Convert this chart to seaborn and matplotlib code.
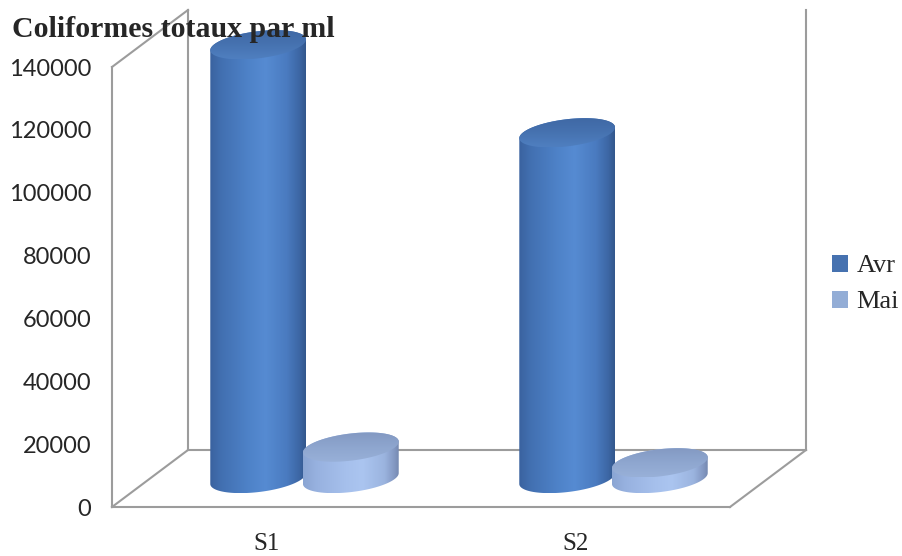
import numpy as np
import pandas as pd
import matplotlib
matplotlib.use("Agg")
import matplotlib.pyplot as plt
import seaborn as sns
from matplotlib.patches import PathPatch, Patch
from matplotlib.path import Path
from matplotlib.colors import LinearSegmentedColormap

# ---- data -------------------------------------------------------------
sites = ["S1", "S2"]
months = ["Avr", "Mai"]
avr_values = [138000, 110000]
mai_values = [10000, 5000]
y_ticks = [0, 20000, 40000, 60000, 80000, 100000, 120000, 140000]
title = "Coliformes totaux par ml"

df = pd.DataFrame({
    "site": sites * 2,
    "mois": [months[0]] * len(sites) + [months[1]] * len(sites),
    "valeur": avr_values + mai_values,
})

# ---- geometry of the pseudo-3D box (pixels) ---------------------------
W, H = 902, 556
FRONT_LEFT, FRONT_RIGHT = 112, 730
FRONT_BOTTOM = 507
PLOT_H = 440
DEPTH_X, DEPTH_Y = 76, 57
YMAX = y_ticks[-1]
CAP_HALF_PX = 13.5          # half height of the elliptical caps
CAP_TILT = np.deg2rad(7)    # perspective tilt of the caps

sns.set_theme(style="white")
plt.rcParams["font.family"] = ["DejaVu Sans"]

fig = plt.figure(figsize=(W / 100, H / 100), dpi=100)
fig.patch.set_facecolor("white")


def axes_rect(left, bottom, width, height):
    return [left / W, 1 - bottom / H, width / W, height / H]


# frame (walls and floor)
frame = fig.add_axes([0, 0, 1, 1], zorder=0)
frame.set_xlim(0, W)
frame.set_ylim(H, 0)
frame.axis("off")
fl, fr, fb = FRONT_LEFT, FRONT_RIGHT, FRONT_BOTTOM
ft = fb - PLOT_H
bl, br, bb, bt = fl + DEPTH_X, fr + DEPTH_X, fb - DEPTH_Y, ft - DEPTH_Y
edge = dict(color="#9c9c9c", lw=1.5, solid_capstyle="projecting")
segments = [
    ((fl, ft), (bl, bt)), ((fl, ft), (fl, fb)), ((fl, fb), (bl, bb)),
    ((bl, bt), (bl, bb)), ((br, bt), (br, bb)), ((bl, bb), (br, bb)),
    ((fl, fb), (fr, fb)), ((fr, fb), (br, bb)),
]
for (x0, y0), (x1, y1) in segments:
    frame.plot([x0, x1], [y0, y1], **edge)

# front plane: value axis and category labels
front = fig.add_axes(axes_rect(fl, fb, fr - fl, PLOT_H), zorder=1)
front.patch.set_alpha(0)
front.set_xlim(-0.5, len(sites) - 0.5)
front.set_ylim(0, YMAX)
front.set_yticks(y_ticks)
front.set_yticklabels([str(v) for v in y_ticks], fontfamily="Lato", fontsize=17)
front.set_xticks(range(len(sites)))
front.set_xticklabels(sites, fontfamily="Liberation Serif", fontsize=18)
front.tick_params(axis="y", length=0, pad=15)
front.tick_params(axis="x", length=0, pad=19)
for s in front.spines.values():
    s.set_visible(False)

# mid-depth plane where the cylinders stand
bars = fig.add_axes(axes_rect(fl + DEPTH_X / 2, fb - DEPTH_Y / 2, fr - fl, PLOT_H), zorder=2)
bars.patch.set_alpha(0)

palette = {"Avr": "#4672b0", "Mai": "#93add6"}
sns.barplot(data=df, x="site", y="valeur", hue="mois", hue_order=months,
            order=sites, palette=palette, width=0.6, saturation=1,
            legend=False, ax=bars)

body_cmaps = {
    "Avr": LinearSegmentedColormap.from_list("avr", [
        (0.0, "#3a629f"), (0.12, "#4270b1"), (0.4, "#4e82c8"),
        (0.58, "#568bd2"), (0.8, "#4a7bc0"), (0.93, "#3d67a5"), (1.0, "#33578c")]),
    "Mai": LinearSegmentedColormap.from_list("mai", [
        (0.0, "#8aa5d3"), (0.15, "#98b2e0"), (0.45, "#a6c0ec"),
        (0.62, "#abc5f0"), (0.85, "#9bb4df"), (0.95, "#8499c3"), (1.0, "#7589b1")]),
}
top_cmaps = {
    "Avr": LinearSegmentedColormap.from_list("avr_top", ["#4f7fc0", "#4672b0", "#3f68a4"]),
    "Mai": LinearSegmentedColormap.from_list("mai_top", ["#98b0d8", "#8ea6cf", "#8399c2"]),
}

n_cat = len(sites)
x_per_px = n_cat / (fr - fl)     # data units per pixel, horizontally
y_per_px = YMAX / PLOT_H         # data units per pixel, vertically
gradient = np.linspace(0, 1, 256)[None, :]
vgrad = np.linspace(0, 1, 64)[:, None] * np.ones((1, 8))


def ellipse_pts(cx, cy, a_px, t):
    """Points of a tilted ellipse (pixel radii a_px, CAP_HALF_PX) in data units."""
    b_px = CAP_HALF_PX
    ex = a_px * np.cos(t) * np.cos(CAP_TILT) - b_px * np.sin(t) * np.sin(CAP_TILT)
    ey = a_px * np.cos(t) * np.sin(CAP_TILT) + b_px * np.sin(t) * np.cos(CAP_TILT)
    return np.column_stack([cx + ex * x_per_px, cy + ey * y_per_px])


rects = [p for p in bars.patches if p.get_height() > 0]
for i, rect in enumerate(rects):
    month = months[i // n_cat]
    x0, w, h = rect.get_x(), rect.get_width(), rect.get_height()
    rect.set_visible(False)
    cx = x0 + w / 2
    a_px = w * 1.04 / x_per_px / 2
    z = 3 + i
    # parameter of the rightmost point of the tilted ellipse
    t0 = np.arctan(-(CAP_HALF_PX / a_px) * np.tan(CAP_TILT))
    lower = ellipse_pts(cx, 0, a_px, np.linspace(t0 + np.pi, t0 + 2 * np.pi, 90))
    upper = ellipse_pts(cx, h, a_px, np.linspace(t0, t0 + np.pi, 90))
    outline = np.vstack([lower, upper])
    clip = PathPatch(Path(outline, closed=True), transform=bars.transData,
                     facecolor="none", edgecolor="none")
    bars.add_patch(clip)
    xmin, xmax = outline[:, 0].min(), outline[:, 0].max()
    im = bars.imshow(gradient, extent=[xmin, xmax, outline[:, 1].min(), outline[:, 1].max()],
                     aspect="auto", cmap=body_cmaps[month], zorder=z,
                     interpolation="bilinear")
    im.set_clip_path(clip)
    im.set_clip_box(fig.bbox)
    # top cap, shaded from front (lower) to back (upper)
    cap_pts = ellipse_pts(cx, h, a_px, np.linspace(0, 2 * np.pi, 180))
    cap = PathPatch(Path(cap_pts, closed=True), transform=bars.transData,
                    facecolor="none", edgecolor="none")
    bars.add_patch(cap)
    im_top = bars.imshow(vgrad, extent=[cap_pts[:, 0].min(), cap_pts[:, 0].max(),
                                        cap_pts[:, 1].min(), cap_pts[:, 1].max()],
                         origin="lower", aspect="auto", cmap=top_cmaps[month],
                         zorder=z + 0.5, interpolation="bilinear")
    im_top.set_clip_path(cap)
    im_top.set_clip_box(fig.bbox)

bars.set_xlim(-0.5, n_cat - 0.5)
bars.set_ylim(0, YMAX)
bars.axis("off")

# legend
handles = [Patch(facecolor=palette[m], edgecolor="none", label=m) for m in months]
fig.legend(handles=handles, loc="center left",
           bbox_to_anchor=(832 / W, 1 - 284 / H), frameon=False,
           prop={"family": "Liberation Serif", "size": 19},
           handlelength=0.62, handleheight=0.62, handletextpad=0.3,
           labelspacing=0.5, borderpad=0, borderaxespad=0)

fig.text(12 / W, 1 - 37 / H, title, fontfamily="Liberation Serif",
         fontweight="bold", fontsize=21.5, va="baseline", ha="left", zorder=10)

fig.savefig("out.png", dpi=100, facecolor="white")
